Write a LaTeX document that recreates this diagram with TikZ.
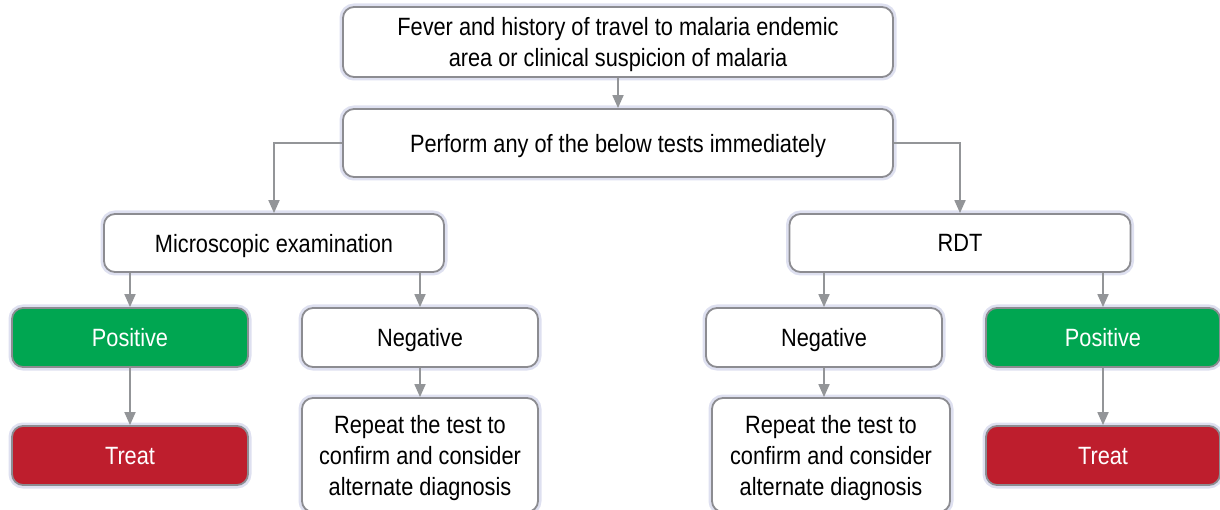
\documentclass[tikz,border=0pt]{standalone}
\usepackage{fontspec}
\setmainfont{Liberation Sans}[FakeStretch=0.87]
\usetikzlibrary{arrows.meta}
\definecolor{boxgray}{RGB}{140,140,145}
\definecolor{arrgray}{RGB}{147,149,152}
\definecolor{posgreen}{RGB}{0,166,81}
\definecolor{treatred}{RGB}{190,30,45}
\definecolor{glow}{RGB}{222,224,240}
\begin{document}
\begin{tikzpicture}[x=1pt, y=-1pt,
		>={Triangle[width=11pt,length=13pt]},
		box/.style={draw=boxgray, line width=1.8pt, rounded corners=11pt, fill=white,
			font=\fontsize{25}{31}\selectfont, align=center, inner sep=0pt, text depth=0pt,
			preaction={draw=glow, line width=7pt, rounded corners=11pt}},
		greenbox/.style={box, fill=posgreen, text=white, preaction={}},
		redbox/.style={box, fill=treatred, text=white, preaction={}},
		arr/.style={->, draw=arrgray, line width=1.8pt}]
		\useasboundingbox (0,0) rectangle (1220,510);
		% top of the chart
		\node[box, minimum width=550, minimum height=70] (fever) at (618,42) {Fever and history of travel to malaria endemic\\area or clinical suspicion of malaria};
		\node[box, minimum width=550, minimum height=68] (perform) at (618,143) {Perform any of the below tests immediately};
		% the two tests
		\node[box, minimum width=340, minimum height=58] (micro) at (274,243) {Microscopic examination};
		\node[box, minimum width=341, minimum height=58] (rdt) at (960,243) {RDT};
		% results
		\node[greenbox, minimum width=236, minimum height=59] (posL) at (130,337.5) {Positive};
		\node[box, minimum width=236, minimum height=59] (negL) at (420,337.5) {Negative};
		\node[box, minimum width=236, minimum height=59] (negR) at (824,337.5) {Negative};
		\node[greenbox, minimum width=234, minimum height=59] (posR) at (1103,337.5) {Positive};
		% actions
		\node[redbox, minimum width=236, minimum height=59] (treatL) at (130,455.5) {Treat};
		\node[box, minimum width=236, minimum height=114] (repL) at (420,455) {Repeat the test to\\confirm and consider\\alternate diagnosis};
		\node[box, minimum width=238, minimum height=114] (repR) at (831,455) {Repeat the test to\\confirm and consider\\alternate diagnosis};
		\node[redbox, minimum width=234, minimum height=59] (treatR) at (1103,455.5) {Treat};
		% connectors
		\draw[arr] (fever) -- (perform);
		\draw[arr] (perform.west) -| (micro.north);
		\draw[arr] (perform.east) -| (rdt.north);
		\draw[arr] (posL.north |- micro.south) -- (posL);
		\draw[arr] (negL.north |- micro.south) -- (negL);
		\draw[arr] (negR.north |- rdt.south) -- (negR);
		\draw[arr] (posR.north |- rdt.south) -- (posR);
		\draw[arr] (posL) -- (treatL);
		\draw[arr] (negL) -- (repL);
		\draw[arr] (negR) -- (negR |- repR.north);
		\draw[arr] (posR) -- (treatR);
\end{tikzpicture}
\end{document}
